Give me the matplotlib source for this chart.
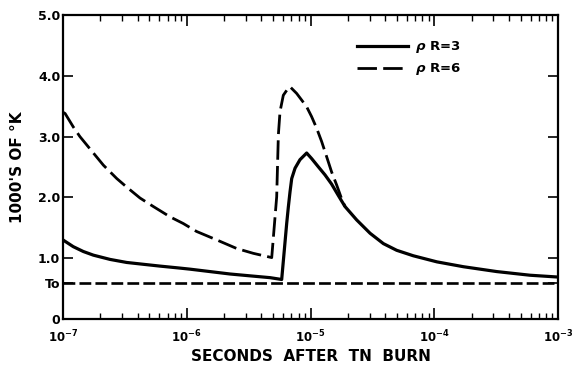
import matplotlib
matplotlib.use("Agg")
import matplotlib.pyplot as plt
from matplotlib.ticker import LogLocator, FixedLocator, NullFormatter

# ---- data ----
t_r3 = [1.0e-7, 1.21e-7, 1.46e-7, 1.76e-7, 2.40e-7, 3.27e-7, 4.45e-7, 6.08e-7,
        8.55e-7, 1.06e-6, 1.54e-6, 2.24e-6, 3.24e-6, 4.71e-6, 5.85e-6,
        6.42e-6, 6.62e-6, 6.83e-6, 7.05e-6, 7.50e-6, 8.22e-6, 9.31e-6,
        1.02e-5, 1.16e-5, 1.31e-5, 1.48e-5, 1.68e-5, 1.90e-5, 2.36e-5,
        3.03e-5, 3.88e-5, 4.97e-5, 6.77e-5, 1.05e-4, 1.72e-4,
        3.2e-4, 5.94e-4, 1.0e-3]
T_r3 = [1.30, 1.19, 1.11, 1.05, 0.98, 0.93, 0.90, 0.87,
        0.84, 0.82, 0.78, 0.74, 0.71, 0.68, 0.65,
        1.57, 1.84, 2.09, 2.31, 2.48, 2.62, 2.73,
        2.64, 2.50, 2.37, 2.22, 2.03, 1.85, 1.63,
        1.41, 1.24, 1.13, 1.04, 0.94, 0.86,
        0.78, 0.72, 0.69]

t_r6 = [1.0e-7, 1.04e-7, 1.21e-7, 1.37e-7, 1.76e-7, 2.12e-7, 2.72e-7, 3.27e-7,
        4.19e-7, 5.37e-7, 7.33e-7, 9.38e-7, 1.20e-6, 1.75e-6, 2.53e-6,
        3.45e-6, 4.86e-6, 5.33e-6, 5.50e-6, 5.67e-6, 6.03e-6,
        6.62e-6, 6.83e-6, 7.73e-6, 8.49e-6, 9.31e-6, 1.02e-5, 1.12e-5,
        1.23e-5, 1.35e-5, 1.48e-5, 1.63e-5, 1.79e-5, 1.90e-5]
T_r6 = [3.40, 3.38, 3.16, 3.00, 2.73, 2.53, 2.31, 2.17,
        1.99, 1.85, 1.68, 1.57, 1.44, 1.30, 1.16,
        1.08, 1.01, 2.01, 3.03, 3.41, 3.68,
        3.80, 3.82, 3.71, 3.60, 3.49, 3.33, 3.14,
        2.92, 2.67, 2.42, 2.20, 1.97, 1.85]

T0 = 0.60

y_ticks = [0, T0, 1, 2, 3, 4, 5]
y_ticklabels = ["0", "To", "1.0", "2.0", "3.0", "4.0", "5.0"]
x_ticks = [1e-7, 1e-6, 1e-5, 1e-4, 1e-3]
x_ticklabels = [r"$\mathbf{10^{-7}}$", r"$\mathbf{10^{-6}}$", r"$\mathbf{10^{-5}}$",
                r"$\mathbf{10^{-4}}$", r"$\mathbf{10^{-3}}$"]
labels = [r"$\rho$ R=3", r"$\rho$ R=6"]

plt.rcParams["lines.scale_dashes"] = False
plt.rcParams["mathtext.fontset"] = "dejavusans"
plt.rcParams["font.family"] = ["DejaVu Sans"]
plt.rcParams["font.weight"] = "bold"

fig = plt.figure(figsize=(5.8, 3.69), dpi=100)
ax = fig.add_axes([63 / 580, 1 - 319 / 369, (558 - 63) / 580, (319 - 15) / 369])

ax.plot(t_r3, T_r3, color="black", lw=2.3, solid_joinstyle="round", label=labels[0])
ax.plot(t_r6, T_r6, color="black", lw=2.0, dashes=(14, 4.5), label=labels[1])
ax.axhline(T0, color="black", lw=1.9, dashes=(8.5, 3))

ax.set_xscale("log")
ax.set_xlim(1e-7, 1e-3)
ax.set_ylim(0, 5)

ax.xaxis.set_major_locator(FixedLocator(x_ticks))
ax.set_xticklabels(x_ticklabels, fontsize=8.5)
ax.xaxis.set_minor_locator(LogLocator(base=10, subs=range(2, 10), numticks=20))
ax.xaxis.set_minor_formatter(NullFormatter())

ax.set_yticks(y_ticks)
ax.set_yticklabels(y_ticklabels, fontsize=9, fontweight="bold")

ax.tick_params(axis="x", which="major", direction="in", length=8, width=1.2,
               top=True, pad=7)
ax.tick_params(axis="x", which="minor", direction="in", length=4, width=1.0, top=True)
ax.tick_params(axis="y", which="major", direction="in", length=7, width=1.2,
               right=True, pad=2)

for s in ax.spines.values():
    s.set_linewidth(1.6)

ax.set_xlabel("SECONDS  AFTER  TN  BURN", fontsize=11, fontweight="bold", labelpad=3)
ax.set_ylabel("1000'S OF \u00b0K", fontsize=11, fontweight="bold", labelpad=9)

leg = ax.legend(loc="upper left", bbox_to_anchor=(0.594, 0.92), frameon=False,
                handlelength=3.9, handletextpad=0.5, labelspacing=0.45,
                borderpad=0, borderaxespad=0, prop={"weight": "bold", "size": 9.5})

fig.savefig("out.png", dpi=100)
